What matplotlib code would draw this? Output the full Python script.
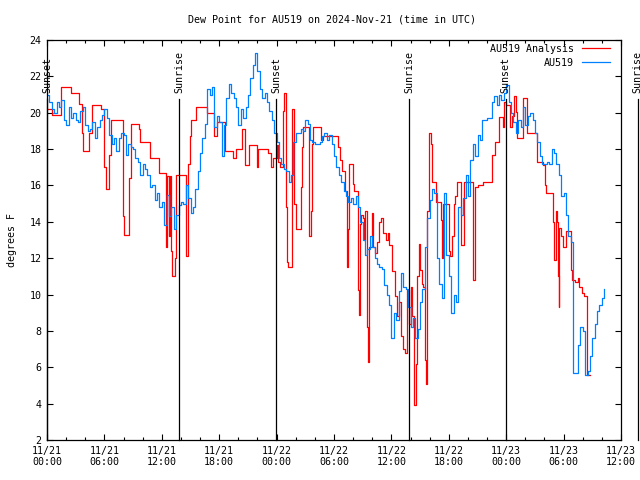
import numpy as np
import pandas as pd
import matplotlib
matplotlib.use('Agg')
import matplotlib.pyplot as plt

# Horas desde 2024-11-21 00:00 UTC
# AU519 observado (amostras de 15 min)
obs_vals = [
    21.0, 20.6, 20.2, 20.0, 20.6, 20.3, 20.7, 19.6, 19.3, 20.3, 19.7, 20.0,
    19.6, 19.5, 20.1, 20.3, 19.3, 19.0, 19.1, 19.5, 18.6, 19.2, 19.6, 19.9,
    20.2, 19.7, 18.8, 18.3, 18.6, 17.9, 18.6, 18.9, 18.8, 17.7, 18.3, 18.1,
    18.0, 17.5, 17.3, 16.6, 17.2, 16.9, 16.6, 15.9, 16.0, 15.2, 15.6, 14.8,
    15.1, 13.8, 15.5, 14.3, 14.8, 13.6, 14.4, 14.9, 15.1, 15.0, 16.0, 15.3,
    14.5, 14.8, 15.8, 16.8, 17.8, 18.6, 19.4, 21.3, 21.0, 21.4, 19.2, 19.8,
    19.5, 17.6, 19.3, 20.8, 21.6, 21.1, 20.8, 20.3, 19.3, 20.2, 19.7, 20.3,
    21.0, 21.9, 22.6, 23.3, 22.3, 21.3, 20.8, 21.1, 20.6, 20.1, 19.6, 18.9,
    18.4, 17.5, 17.2, 16.9, 16.8, 16.2, 16.6, 18.4, 18.9, 18.9, 19.1, 19.0,
    19.6, 19.4, 18.5, 18.4, 18.3, 18.3, 18.4, 18.7, 18.9, 18.5, 18.8, 18.3,
    17.6, 17.0, 16.6, 16.2, 15.7, 15.4, 15.1, 15.3, 15.0, 15.4, 14.8, 14.0,
    13.0, 12.2, 12.5, 13.2, 12.6, 12.0, 11.7, 11.5, 11.4, 10.5, 10.0, 9.4,
    7.6, 9.0, 8.6, 10.2, 11.2, 10.4, 10.3, 9.3, 8.2, 8.7, 7.6, 8.1,
    9.6, 10.3, 12.6, 14.2, 15.2, 15.8, 15.6, 12.0, 10.6, 9.8, 15.6, 12.2,
    11.0, 9.0, 10.0, 9.6, 14.8, 14.4, 15.3, 16.6, 15.4, 17.4, 18.3, 17.6,
    18.8, 18.5, 19.6, 19.6, 19.7, 19.7, 20.6, 20.9, 20.4, 21.0, 20.7, 21.1,
    21.5, 20.6, 20.0, 19.5, 18.9, 19.6, 19.2, 20.3, 19.3, 19.8, 20.0, 19.6,
    18.9, 18.4, 17.6, 17.2, 17.2, 17.3, 17.2, 18.0, 17.8, 17.2, 16.6, 15.4,
    15.6, 14.4, 13.2, 12.9, 5.7, 5.7, 7.2, 8.2, 8.0, 5.6, 5.8, 6.6,
    7.6, 8.4, 9.1, 9.4, 9.8, 10.3,
]
obs_hours = [0.25 * i for i in range(len(obs_vals))]

# AU519 Analysis (pontos de mudanca, em degraus)
ana_hours = [
    0.0, 0.49, 1.43, 2.48, 3.34, 3.63, 3.79, 4.42, 4.74, 5.61, 5.96, 6.14,
    6.48, 6.69, 7.91, 8.08, 8.6, 8.75, 9.62, 9.72, 10.77, 11.71, 12.41, 12.54,
    12.75, 12.86, 13.01, 13.1, 13.38, 13.48, 14.53, 14.69, 14.79, 14.9, 15.05, 15.54,
    16.69, 17.46, 17.77, 18.61, 19.44, 19.76, 20.35, 20.7, 21.11, 21.92, 22.06, 23.1,
    23.41, 23.62, 24.01, 24.11, 24.35, 24.7, 24.8, 24.95, 24.98, 25.12, 25.22, 25.64,
    25.82, 26.0, 26.6, 26.68, 26.79, 27.39, 27.56, 27.73, 27.84, 28.64, 28.88, 30.39,
    30.45, 30.63, 30.8, 31.15, 31.39, 31.5, 31.6, 32.02, 32.12, 32.48, 32.61, 32.72,
    32.82, 33.0, 33.13, 33.24, 33.48, 33.58, 33.69, 33.97, 34.11, 34.28, 34.53, 34.74,
    34.88, 35.15, 35.43, 35.64, 35.78, 36.03, 36.38, 36.55, 36.79, 37.0, 37.24, 37.42,
    37.6, 37.87, 38.05, 38.18, 38.36, 38.57, 38.71, 38.85, 38.99, 39.17, 39.33, 39.51,
    39.62, 39.75, 39.96, 40.11, 40.27, 40.63, 41.18, 41.32, 41.42, 42.02, 42.16, 42.3,
    42.51, 42.65, 42.83, 43.3, 43.62, 44.56, 44.69, 45.08, 45.6, 46.55, 46.83, 47.25,
    47.63, 47.77, 47.98, 48.4, 48.57, 48.85, 48.99, 49.16, 49.79, 50.14, 50.2, 51.19,
    51.81, 52.05, 52.16, 52.86, 52.92, 53.03, 53.17, 53.28, 53.38, 53.49, 53.55, 53.69,
    53.9, 54.25, 54.74, 54.84, 55.19, 55.47, 55.64, 55.89, 56.13, 56.41, 56.76,
]
ana_vals = [
    20.2, 19.9, 21.4, 21.1, 20.5, 18.9, 17.9, 18.9, 20.4, 20.2, 17.0, 15.8,
    17.7, 19.6, 14.3, 13.3, 16.4, 19.4, 19.1, 18.4, 17.5, 16.7, 12.6, 16.5,
    13.2, 16.5, 12.4, 11.0, 12.0, 16.6, 12.1, 14.6, 17.2, 18.7, 19.6, 20.3,
    20.0, 18.7, 19.5, 17.9, 17.5, 18.0, 19.1, 17.1, 18.2, 17.0, 18.0, 17.8,
    17.0, 17.5, 18.2, 17.3, 17.0, 20.1, 21.1, 20.0, 14.8, 11.8, 11.5, 20.2,
    15.0, 13.6, 15.9, 18.1, 19.2, 13.2, 14.6, 18.3, 19.2, 18.5, 18.7, 18.4,
    18.1, 17.4, 16.8, 15.7, 11.5, 13.6, 17.2, 16.1, 15.7, 10.25, 8.9, 13.9,
    14.4, 14.2, 13.0, 14.6, 8.2, 6.3, 12.6, 14.5, 12.6, 12.3, 12.9, 14.0,
    14.2, 13.4, 13.0, 13.4, 12.7, 11.3, 9.9, 8.8, 9.6, 7.7, 7.0, 6.8,
    10.25, 8.4, 10.4, 8.8, 3.9, 6.2, 11.0, 12.8, 11.35, 10.6, 10.4, 6.4,
    5.1, 14.6, 18.9, 18.3, 16.2, 15.1, 14.1, 12.0, 15.0, 12.4, 12.1, 13.2,
    15.0, 15.4, 16.2, 12.7, 16.2, 10.8, 15.9, 16.0, 16.2, 17.7, 18.4, 19.75,
    19.2, 20.6, 20.4, 19.2, 19.8, 20.9, 20.05, 18.6, 20.8, 19.6, 18.9, 17.3,
    17.1, 16.0, 15.6, 14.6, 14.0, 11.9, 14.6, 14.0, 11.0, 9.3, 13.65, 13.2,
    12.6, 13.5, 11.35, 10.8, 10.7, 10.9, 10.4, 10.1, 9.9, 5.6, 5.6,
]

# Nascer / por do sol (horas)
sun_hours = [0.0, 13.8, 23.95, 37.85, 47.95, 61.75]
sun_labels = ['Sunset', 'Sunrise', 'Sunset', 'Sunrise', 'Sunset', 'Sunrise']

tick_hours = [0, 6, 12, 18, 24, 30, 36, 42, 48, 54, 60]
tick_labels = ['11/21\n00:00', '11/21\n06:00', '11/21\n12:00', '11/21\n18:00',
               '11/22\n00:00', '11/22\n06:00', '11/22\n12:00', '11/22\n18:00',
               '11/23\n00:00', '11/23\n06:00', '11/23\n12:00']

plt.rcParams['font.family'] = 'DejaVu Sans Mono'
plt.rcParams['font.size'] = 7.2

fig = plt.figure(figsize=(6.4, 4.8), dpi=100)
ax = fig.add_axes([47 / 640, 40 / 480, 574 / 640, 400 / 480])

ax.plot(ana_hours, ana_vals, color='#ff0000', lw=0.9, drawstyle='steps-post', label='AU519 Analysis')
ax.plot(obs_hours, obs_vals, color='#0080ff', lw=0.9, drawstyle='steps-post', label='AU519')

for h, lab in zip(sun_hours, sun_labels):
    ax.plot([h, h], [2, 20.75], color='black', lw=0.9, clip_on=False)
    ax.text(h, 21.1, lab, rotation=90, ha='center', va='bottom', clip_on=False)

ax.set_xlim(0, 60)
ax.set_ylim(2, 24)
ax.set_xticks(tick_hours)
ax.set_xticklabels(tick_labels)
ax.set_xticks(np.arange(0, 61, 2), minor=True)
ax.set_yticks(np.arange(2, 25, 2))
ax.tick_params(which='both', direction='in', top=True, right=True, width=0.8)
ax.tick_params(which='major', length=4, pad=4)
ax.tick_params(which='minor', length=2)
for s in ax.spines.values():
    s.set_linewidth(0.9)

ax.set_ylabel('degrees F', labelpad=9)

fig.text(332 / 640, 1 - 19 / 480, 'Dew Point for AU519 on 2024-Nov-21 (time in UTC)',
         ha='center', va='center')

leg = ax.legend(loc='upper right', bbox_to_anchor=(0.98, 0.99), frameon=False,
                markerfirst=False, borderpad=0, borderaxespad=0, handlelength=2.8,
                handletextpad=0.8, labelspacing=0.4)

plt.savefig('out.png', dpi=100)
